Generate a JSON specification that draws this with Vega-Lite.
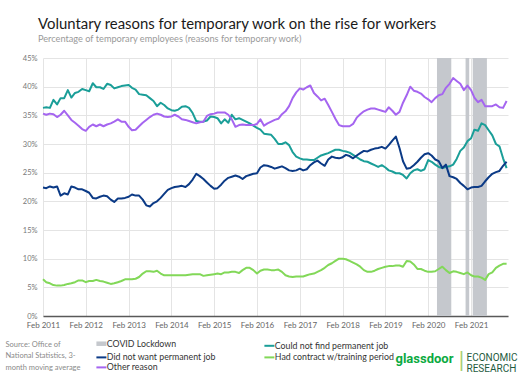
{
  "$schema": "https://vega.github.io/schema/vega-lite/v6.json",
  "width": 465,
  "height": 258,
  "autosize": {"type": "none"},
  "padding": {"left": 43, "top": 58, "right": 17, "bottom": 67},
  "background": "white",
  "title": {
    "text": "Voluntary reasons for temporary work on the rise for workers",
    "subtitle": "Percentage of temporary employees (reasons for temporary work)",
    "anchor": "start",
    "frame": "group",
    "dx": -5,
    "offset": 10,
    "font": "Lato",
    "fontSize": 14.9,
    "fontWeight": "normal",
    "color": "#1a1a1a",
    "subtitleFont": "Lato",
    "subtitleFontSize": 9.2,
    "subtitleColor": "#9a9a9a",
    "subtitlePadding": 3
  },
  "layer": [
    {
      "data": {"values": [
        {"series": "COVID Lockdown", "start": "2020-04-16", "end": "2020-08-16"},
        {"series": "COVID Lockdown", "start": "2020-12-16", "end": "2021-01-16"},
        {"series": "COVID Lockdown", "start": "2021-02-15", "end": "2021-06-16"}
      ]},
      "mark": {"type": "rect"},
      "encoding": {
        "x": {
          "field": "start", "type": "temporal",
          "scale": {"type": "utc", "domain": [{"year": 2011, "month": 2, "date": 1, "utc": true}, {"year": 2021, "month": 12, "date": 13, "utc": true}]},
          "axis": {"orient": "top", "labels": false, "ticks": false, "domain": false, "grid": false,
            "title": ["ECONOMIC", "RESEARCH"], "titleX": 423, "titleY": 294, "titleAlign": "left", "titleAnchor": null,
            "titleBaseline": "top", "titleFont": "Roboto",
            "titleFontSize": 10, "titleFontWeight": "normal", "titleColor": "#1e5b40", "titleLineHeight": 11.5}
        },
        "x2": {"field": "end"},
        "y": {
          "datum": 45, "type": "quantitative",
          "scale": {"domain": [0, 45], "nice": false},
          "axis": {"orient": "right", "labels": false, "ticks": false, "domain": false, "grid": false,
            "title": "|", "titleX": -47, "titleY": 291, "titleAngle": 0, "titleAlign": "center", "titleAnchor": null,
            "titleBaseline": "top", "titleFont": "Lato", "titleFontSize": 22, "titleFontWeight": "normal", "titleColor": "#a9cf6e"}
        },
        "y2": {"datum": 0},
        "color": {
          "field": "series", "type": "nominal",
          "scale": {
            "domain": ["COVID Lockdown", "Could not find permanent job", "Did not want permanent job", "Had contract w/training period", "Other reason"],
            "range": ["#c5c8cd", "#1a9e98", "#0b3a86", "#82d858", "#a565f0"]
          },
          "legend": {
            "title": null,
            "orient": "none",
            "legendX": 54,
            "legendY": 281,
            "direction": "horizontal",
            "columns": 2,
            "columnPadding": 44,
            "rowPadding": -0.6,
            "padding": 0,
            "labelFont": "Lato",
            "labelFontSize": 8.8,
            "labelColor": "#333333",
            "labelOffset": 1,
            "labelLimit": 400,
            "symbolSize": 100,
            "symbolStrokeWidth": 2,
            "symbolType": "stroke",
            "symbolOpacity": 1,
            "encode": {
              "symbols": {
                "update": {
                  "shape": {"value": "stroke"},
                  "fill": {"value": "transparent"},
                  "stroke": {"scale": "color", "field": "value"},
                  "strokeWidth": {"signal": "datum.value === 'COVID Lockdown' ? 4.5 : 2"}
                }
              }
            }
          }
        }
      }
    },
    {
      "data": {"values": [
        {"date": "2011-02-01", "Could not find permanent job": 36.3, "Did not want permanent job": 22.4, "Had contract w/training period": 6.4, "Other reason": 35.3},
        {"date": "2011-03-01", "Could not find permanent job": 36.4, "Did not want permanent job": 22.3, "Had contract w/training period": 5.9, "Other reason": 35.1},
        {"date": "2011-04-01", "Could not find permanent job": 36.3, "Did not want permanent job": 22.6, "Had contract w/training period": 5.7, "Other reason": 35.3},
        {"date": "2011-05-01", "Could not find permanent job": 37.7, "Did not want permanent job": 22.4, "Had contract w/training period": 5.4, "Other reason": 35.2},
        {"date": "2011-06-01", "Could not find permanent job": 36.9, "Did not want permanent job": 22.6, "Had contract w/training period": 5.3, "Other reason": 34.7},
        {"date": "2011-07-01", "Could not find permanent job": 38.0, "Did not want permanent job": 21.0, "Had contract w/training period": 5.3, "Other reason": 35.1},
        {"date": "2011-08-01", "Could not find permanent job": 38.0, "Did not want permanent job": 21.4, "Had contract w/training period": 5.4, "Other reason": 35.8},
        {"date": "2011-09-01", "Could not find permanent job": 39.4, "Did not want permanent job": 21.2, "Had contract w/training period": 5.6, "Other reason": 35.0},
        {"date": "2011-10-01", "Could not find permanent job": 38.1, "Did not want permanent job": 22.6, "Had contract w/training period": 5.7, "Other reason": 34.2},
        {"date": "2011-11-01", "Could not find permanent job": 38.9, "Did not want permanent job": 22.4, "Had contract w/training period": 5.9, "Other reason": 33.7},
        {"date": "2011-12-01", "Could not find permanent job": 39.1, "Did not want permanent job": 22.1, "Had contract w/training period": 6.2, "Other reason": 33.2},
        {"date": "2012-01-01", "Could not find permanent job": 39.6, "Did not want permanent job": 22.1, "Had contract w/training period": 6.2, "Other reason": 32.6},
        {"date": "2012-02-01", "Could not find permanent job": 39.4, "Did not want permanent job": 21.8, "Had contract w/training period": 5.9, "Other reason": 32.3},
        {"date": "2012-03-01", "Could not find permanent job": 39.2, "Did not want permanent job": 21.5, "Had contract w/training period": 6.1, "Other reason": 33.0},
        {"date": "2012-04-01", "Could not find permanent job": 40.6, "Did not want permanent job": 20.6, "Had contract w/training period": 6.1, "Other reason": 33.4},
        {"date": "2012-05-01", "Could not find permanent job": 39.9, "Did not want permanent job": 20.5, "Had contract w/training period": 6.3, "Other reason": 33.1},
        {"date": "2012-06-01", "Could not find permanent job": 39.9, "Did not want permanent job": 20.8, "Had contract w/training period": 6.1, "Other reason": 33.4},
        {"date": "2012-07-01", "Could not find permanent job": 39.6, "Did not want permanent job": 21.0, "Had contract w/training period": 6.0, "Other reason": 33.1},
        {"date": "2012-08-01", "Could not find permanent job": 40.5, "Did not want permanent job": 20.9, "Had contract w/training period": 5.8, "Other reason": 33.4},
        {"date": "2012-09-01", "Could not find permanent job": 40.3, "Did not want permanent job": 20.3, "Had contract w/training period": 5.6, "Other reason": 33.6},
        {"date": "2012-10-01", "Could not find permanent job": 39.7, "Did not want permanent job": 19.9, "Had contract w/training period": 5.7, "Other reason": 33.9},
        {"date": "2012-11-01", "Could not find permanent job": 39.9, "Did not want permanent job": 20.5, "Had contract w/training period": 5.9, "Other reason": 34.3},
        {"date": "2012-12-01", "Could not find permanent job": 40.1, "Did not want permanent job": 20.5, "Had contract w/training period": 6.1, "Other reason": 33.9},
        {"date": "2013-01-01", "Could not find permanent job": 40.2, "Did not want permanent job": 20.6, "Had contract w/training period": 6.4, "Other reason": 33.9},
        {"date": "2013-02-01", "Could not find permanent job": 40.3, "Did not want permanent job": 20.8, "Had contract w/training period": 6.4, "Other reason": 33.0},
        {"date": "2013-03-01", "Could not find permanent job": 39.8, "Did not want permanent job": 21.2, "Had contract w/training period": 6.4, "Other reason": 32.4},
        {"date": "2013-04-01", "Could not find permanent job": 39.5, "Did not want permanent job": 21.0, "Had contract w/training period": 6.5, "Other reason": 32.5},
        {"date": "2013-05-01", "Could not find permanent job": 38.7, "Did not want permanent job": 21.0, "Had contract w/training period": 6.8, "Other reason": 33.1},
        {"date": "2013-06-01", "Could not find permanent job": 38.6, "Did not want permanent job": 20.3, "Had contract w/training period": 7.4, "Other reason": 33.7},
        {"date": "2013-07-01", "Could not find permanent job": 38.5, "Did not want permanent job": 19.3, "Had contract w/training period": 7.8, "Other reason": 34.2},
        {"date": "2013-08-01", "Could not find permanent job": 38.0, "Did not want permanent job": 19.1, "Had contract w/training period": 7.8, "Other reason": 34.7},
        {"date": "2013-09-01", "Could not find permanent job": 37.5, "Did not want permanent job": 19.7, "Had contract w/training period": 7.7, "Other reason": 35.1},
        {"date": "2013-10-01", "Could not find permanent job": 36.6, "Did not want permanent job": 20.0, "Had contract w/training period": 7.9, "Other reason": 35.3},
        {"date": "2013-11-01", "Could not find permanent job": 37.2, "Did not want permanent job": 20.6, "Had contract w/training period": 7.4, "Other reason": 35.1},
        {"date": "2013-12-01", "Could not find permanent job": 36.8, "Did not want permanent job": 21.3, "Had contract w/training period": 7.1, "Other reason": 34.8},
        {"date": "2014-01-01", "Could not find permanent job": 36.2, "Did not want permanent job": 22.0, "Had contract w/training period": 7.1, "Other reason": 34.7},
        {"date": "2014-02-01", "Could not find permanent job": 35.9, "Did not want permanent job": 22.3, "Had contract w/training period": 7.1, "Other reason": 34.8},
        {"date": "2014-03-01", "Could not find permanent job": 35.8, "Did not want permanent job": 22.5, "Had contract w/training period": 7.1, "Other reason": 35.1},
        {"date": "2014-04-01", "Could not find permanent job": 36.0, "Did not want permanent job": 22.6, "Had contract w/training period": 7.1, "Other reason": 34.8},
        {"date": "2014-05-01", "Could not find permanent job": 36.5, "Did not want permanent job": 22.7, "Had contract w/training period": 7.1, "Other reason": 34.3},
        {"date": "2014-06-01", "Could not find permanent job": 36.6, "Did not want permanent job": 22.5, "Had contract w/training period": 7.1, "Other reason": 34.2},
        {"date": "2014-07-01", "Could not find permanent job": 36.3, "Did not want permanent job": 23.0, "Had contract w/training period": 7.2, "Other reason": 34.0},
        {"date": "2014-08-01", "Could not find permanent job": 35.4, "Did not want permanent job": 23.8, "Had contract w/training period": 7.3, "Other reason": 33.8},
        {"date": "2014-09-01", "Could not find permanent job": 34.0, "Did not want permanent job": 24.8, "Had contract w/training period": 7.3, "Other reason": 33.6},
        {"date": "2014-10-01", "Could not find permanent job": 33.9, "Did not want permanent job": 24.4, "Had contract w/training period": 7.3, "Other reason": 33.8},
        {"date": "2014-11-01", "Could not find permanent job": 33.9, "Did not want permanent job": 23.9, "Had contract w/training period": 7.0, "Other reason": 33.9},
        {"date": "2014-12-01", "Could not find permanent job": 34.1, "Did not want permanent job": 23.3, "Had contract w/training period": 7.1, "Other reason": 34.9},
        {"date": "2015-01-01", "Could not find permanent job": 34.8, "Did not want permanent job": 22.7, "Had contract w/training period": 7.2, "Other reason": 35.2},
        {"date": "2015-02-01", "Could not find permanent job": 34.7, "Did not want permanent job": 22.2, "Had contract w/training period": 7.3, "Other reason": 35.3},
        {"date": "2015-03-01", "Could not find permanent job": 34.5, "Did not want permanent job": 22.3, "Had contract w/training period": 7.4, "Other reason": 35.5},
        {"date": "2015-04-01", "Could not find permanent job": 33.6, "Did not want permanent job": 22.9, "Had contract w/training period": 7.3, "Other reason": 35.5},
        {"date": "2015-05-01", "Could not find permanent job": 34.3, "Did not want permanent job": 23.6, "Had contract w/training period": 7.6, "Other reason": 35.5},
        {"date": "2015-06-01", "Could not find permanent job": 33.7, "Did not want permanent job": 24.1, "Had contract w/training period": 7.6, "Other reason": 35.1},
        {"date": "2015-07-01", "Could not find permanent job": 35.1, "Did not want permanent job": 24.3, "Had contract w/training period": 7.7, "Other reason": 34.3},
        {"date": "2015-08-01", "Could not find permanent job": 34.3, "Did not want permanent job": 24.5, "Had contract w/training period": 7.7, "Other reason": 33.0},
        {"date": "2015-09-01", "Could not find permanent job": 34.5, "Did not want permanent job": 24.3, "Had contract w/training period": 7.5, "Other reason": 33.3},
        {"date": "2015-10-01", "Could not find permanent job": 34.2, "Did not want permanent job": 23.9, "Had contract w/training period": 8.0, "Other reason": 33.4},
        {"date": "2015-11-01", "Could not find permanent job": 33.9, "Did not want permanent job": 24.4, "Had contract w/training period": 8.4, "Other reason": 33.3},
        {"date": "2015-12-01", "Could not find permanent job": 33.6, "Did not want permanent job": 24.6, "Had contract w/training period": 8.4, "Other reason": 33.3},
        {"date": "2016-01-01", "Could not find permanent job": 33.2, "Did not want permanent job": 24.8, "Had contract w/training period": 8.0, "Other reason": 33.3},
        {"date": "2016-02-01", "Could not find permanent job": 32.8, "Did not want permanent job": 24.9, "Had contract w/training period": 7.4, "Other reason": 33.5},
        {"date": "2016-03-01", "Could not find permanent job": 32.5, "Did not want permanent job": 25.9, "Had contract w/training period": 7.9, "Other reason": 34.3},
        {"date": "2016-04-01", "Could not find permanent job": 31.8, "Did not want permanent job": 26.3, "Had contract w/training period": 8.1, "Other reason": 33.2},
        {"date": "2016-05-01", "Could not find permanent job": 31.7, "Did not want permanent job": 26.2, "Had contract w/training period": 8.1, "Other reason": 33.6},
        {"date": "2016-06-01", "Could not find permanent job": 31.6, "Did not want permanent job": 26.0, "Had contract w/training period": 8.0, "Other reason": 33.9},
        {"date": "2016-07-01", "Could not find permanent job": 30.9, "Did not want permanent job": 25.7, "Had contract w/training period": 8.0, "Other reason": 34.2},
        {"date": "2016-08-01", "Could not find permanent job": 30.0, "Did not want permanent job": 25.9, "Had contract w/training period": 8.1, "Other reason": 34.4},
        {"date": "2016-09-01", "Could not find permanent job": 30.0, "Did not want permanent job": 26.1, "Had contract w/training period": 7.7, "Other reason": 35.2},
        {"date": "2016-10-01", "Could not find permanent job": 30.3, "Did not want permanent job": 25.8, "Had contract w/training period": 7.1, "Other reason": 35.7},
        {"date": "2016-11-01", "Could not find permanent job": 29.8, "Did not want permanent job": 25.4, "Had contract w/training period": 6.9, "Other reason": 36.6},
        {"date": "2016-12-01", "Could not find permanent job": 28.6, "Did not want permanent job": 25.3, "Had contract w/training period": 6.8, "Other reason": 38.0},
        {"date": "2017-01-01", "Could not find permanent job": 27.8, "Did not want permanent job": 25.4, "Had contract w/training period": 6.9, "Other reason": 39.0},
        {"date": "2017-02-01", "Could not find permanent job": 27.5, "Did not want permanent job": 25.7, "Had contract w/training period": 6.9, "Other reason": 39.7},
        {"date": "2017-03-01", "Could not find permanent job": 27.3, "Did not want permanent job": 25.4, "Had contract w/training period": 6.9, "Other reason": 39.5},
        {"date": "2017-04-01", "Could not find permanent job": 27.3, "Did not want permanent job": 25.6, "Had contract w/training period": 7.1, "Other reason": 39.9},
        {"date": "2017-05-01", "Could not find permanent job": 27.2, "Did not want permanent job": 26.3, "Had contract w/training period": 7.3, "Other reason": 40.2},
        {"date": "2017-06-01", "Could not find permanent job": 27.2, "Did not want permanent job": 26.8, "Had contract w/training period": 7.4, "Other reason": 38.9},
        {"date": "2017-07-01", "Could not find permanent job": 27.6, "Did not want permanent job": 27.1, "Had contract w/training period": 7.7, "Other reason": 38.3},
        {"date": "2017-08-01", "Could not find permanent job": 28.0, "Did not want permanent job": 26.6, "Had contract w/training period": 8.0, "Other reason": 37.6},
        {"date": "2017-09-01", "Could not find permanent job": 28.2, "Did not want permanent job": 26.2, "Had contract w/training period": 8.4, "Other reason": 37.9},
        {"date": "2017-10-01", "Could not find permanent job": 28.4, "Did not want permanent job": 27.3, "Had contract w/training period": 8.9, "Other reason": 36.8},
        {"date": "2017-11-01", "Could not find permanent job": 28.7, "Did not want permanent job": 27.8, "Had contract w/training period": 9.2, "Other reason": 35.6},
        {"date": "2017-12-01", "Could not find permanent job": 29.0, "Did not want permanent job": 27.6, "Had contract w/training period": 9.6, "Other reason": 34.4},
        {"date": "2018-01-01", "Could not find permanent job": 29.0, "Did not want permanent job": 27.5, "Had contract w/training period": 10.0, "Other reason": 33.3},
        {"date": "2018-02-01", "Could not find permanent job": 28.8, "Did not want permanent job": 27.7, "Had contract w/training period": 10.0, "Other reason": 33.1},
        {"date": "2018-03-01", "Could not find permanent job": 28.7, "Did not want permanent job": 28.1, "Had contract w/training period": 9.9, "Other reason": 33.1},
        {"date": "2018-04-01", "Could not find permanent job": 28.5, "Did not want permanent job": 27.9, "Had contract w/training period": 9.6, "Other reason": 33.1},
        {"date": "2018-05-01", "Could not find permanent job": 28.1, "Did not want permanent job": 27.5, "Had contract w/training period": 9.3, "Other reason": 33.5},
        {"date": "2018-06-01", "Could not find permanent job": 27.7, "Did not want permanent job": 28.0, "Had contract w/training period": 9.0, "Other reason": 34.6},
        {"date": "2018-07-01", "Could not find permanent job": 27.3, "Did not want permanent job": 28.4, "Had contract w/training period": 8.6, "Other reason": 35.2},
        {"date": "2018-08-01", "Could not find permanent job": 27.0, "Did not want permanent job": 28.8, "Had contract w/training period": 8.0, "Other reason": 35.7},
        {"date": "2018-09-01", "Could not find permanent job": 26.9, "Did not want permanent job": 28.7, "Had contract w/training period": 7.7, "Other reason": 36.0},
        {"date": "2018-10-01", "Could not find permanent job": 26.6, "Did not want permanent job": 29.0, "Had contract w/training period": 7.7, "Other reason": 36.2},
        {"date": "2018-11-01", "Could not find permanent job": 26.3, "Did not want permanent job": 29.2, "Had contract w/training period": 7.9, "Other reason": 36.2},
        {"date": "2018-12-01", "Could not find permanent job": 26.0, "Did not want permanent job": 29.3, "Had contract w/training period": 8.2, "Other reason": 36.0},
        {"date": "2019-01-01", "Could not find permanent job": 26.3, "Did not want permanent job": 29.5, "Had contract w/training period": 8.4, "Other reason": 35.8},
        {"date": "2019-02-01", "Could not find permanent job": 25.9, "Did not want permanent job": 29.2, "Had contract w/training period": 8.6, "Other reason": 35.6},
        {"date": "2019-03-01", "Could not find permanent job": 25.4, "Did not want permanent job": 29.8, "Had contract w/training period": 8.7, "Other reason": 36.4},
        {"date": "2019-04-01", "Could not find permanent job": 25.2, "Did not want permanent job": 30.6, "Had contract w/training period": 8.7, "Other reason": 35.8},
        {"date": "2019-05-01", "Could not find permanent job": 24.9, "Did not want permanent job": 31.3, "Had contract w/training period": 8.8, "Other reason": 35.1},
        {"date": "2019-06-01", "Could not find permanent job": 24.9, "Did not want permanent job": 29.3, "Had contract w/training period": 8.8, "Other reason": 35.6},
        {"date": "2019-07-01", "Could not find permanent job": 24.6, "Did not want permanent job": 27.0, "Had contract w/training period": 8.6, "Other reason": 37.2},
        {"date": "2019-08-01", "Could not find permanent job": 24.0, "Did not want permanent job": 25.7, "Had contract w/training period": 9.6, "Other reason": 38.5},
        {"date": "2019-09-01", "Could not find permanent job": 24.9, "Did not want permanent job": 25.8, "Had contract w/training period": 9.5, "Other reason": 40.0},
        {"date": "2019-10-01", "Could not find permanent job": 25.4, "Did not want permanent job": 26.3, "Had contract w/training period": 9.0, "Other reason": 39.3},
        {"date": "2019-11-01", "Could not find permanent job": 25.6, "Did not want permanent job": 26.9, "Had contract w/training period": 8.2, "Other reason": 39.1},
        {"date": "2019-12-01", "Could not find permanent job": 25.3, "Did not want permanent job": 27.6, "Had contract w/training period": 8.2, "Other reason": 38.8},
        {"date": "2020-01-01", "Could not find permanent job": 25.6, "Did not want permanent job": 28.2, "Had contract w/training period": 7.9, "Other reason": 38.2},
        {"date": "2020-02-01", "Could not find permanent job": 27.2, "Did not want permanent job": 28.4, "Had contract w/training period": 7.7, "Other reason": 37.8},
        {"date": "2020-03-01", "Could not find permanent job": 26.9, "Did not want permanent job": 28.0, "Had contract w/training period": 7.7, "Other reason": 37.3},
        {"date": "2020-04-01", "Could not find permanent job": 26.4, "Did not want permanent job": 27.3, "Had contract w/training period": 7.8, "Other reason": 38.0},
        {"date": "2020-05-01", "Could not find permanent job": 26.0, "Did not want permanent job": 27.0, "Had contract w/training period": 8.2, "Other reason": 38.5},
        {"date": "2020-06-01", "Could not find permanent job": 25.8, "Did not want permanent job": 25.8, "Had contract w/training period": 8.6, "Other reason": 38.7},
        {"date": "2020-07-01", "Could not find permanent job": 26.0, "Did not want permanent job": 26.4, "Had contract w/training period": 8.0, "Other reason": 39.8},
        {"date": "2020-08-01", "Could not find permanent job": 26.1, "Did not want permanent job": 24.4, "Had contract w/training period": 7.5, "Other reason": 40.5},
        {"date": "2020-09-01", "Could not find permanent job": 26.4, "Did not want permanent job": 24.2, "Had contract w/training period": 7.8, "Other reason": 41.5},
        {"date": "2020-10-01", "Could not find permanent job": 27.4, "Did not want permanent job": 23.9, "Had contract w/training period": 7.7, "Other reason": 41.0},
        {"date": "2020-11-01", "Could not find permanent job": 28.8, "Did not want permanent job": 23.2, "Had contract w/training period": 7.5, "Other reason": 40.5},
        {"date": "2020-12-01", "Could not find permanent job": 29.4, "Did not want permanent job": 22.7, "Had contract w/training period": 7.3, "Other reason": 39.4},
        {"date": "2021-01-01", "Could not find permanent job": 30.5, "Did not want permanent job": 22.1, "Had contract w/training period": 7.6, "Other reason": 40.2},
        {"date": "2021-02-01", "Could not find permanent job": 31.0, "Did not want permanent job": 22.4, "Had contract w/training period": 7.1, "Other reason": 39.4},
        {"date": "2021-03-01", "Could not find permanent job": 32.5, "Did not want permanent job": 22.5, "Had contract w/training period": 6.9, "Other reason": 38.1},
        {"date": "2021-04-01", "Could not find permanent job": 32.3, "Did not want permanent job": 22.5, "Had contract w/training period": 6.9, "Other reason": 37.3},
        {"date": "2021-05-01", "Could not find permanent job": 33.6, "Did not want permanent job": 22.7, "Had contract w/training period": 6.7, "Other reason": 37.7},
        {"date": "2021-06-01", "Could not find permanent job": 33.3, "Did not want permanent job": 23.5, "Had contract w/training period": 6.3, "Other reason": 36.6},
        {"date": "2021-07-01", "Could not find permanent job": 32.4, "Did not want permanent job": 24.2, "Had contract w/training period": 7.3, "Other reason": 36.6},
        {"date": "2021-08-01", "Could not find permanent job": 31.5, "Did not want permanent job": 24.8, "Had contract w/training period": 7.6, "Other reason": 36.6},
        {"date": "2021-09-01", "Could not find permanent job": 30.0, "Did not want permanent job": 25.1, "Had contract w/training period": 8.4, "Other reason": 36.9},
        {"date": "2021-10-01", "Could not find permanent job": 29.6, "Did not want permanent job": 25.3, "Had contract w/training period": 8.8, "Other reason": 36.4},
        {"date": "2021-11-01", "Could not find permanent job": 27.5, "Did not want permanent job": 26.2, "Had contract w/training period": 9.1, "Other reason": 36.3},
        {"date": "2021-12-01", "Could not find permanent job": 25.8, "Did not want permanent job": 26.9, "Had contract w/training period": 9.1, "Other reason": 37.5}
      ]},
      "transform": [
        {"fold": ["Could not find permanent job", "Did not want permanent job", "Had contract w/training period", "Other reason"], "as": ["series", "value"]}
      ],
      "mark": {"type": "line", "strokeWidth": 2, "strokeJoin": "round"},
      "encoding": {
        "x": {
          "field": "date", "type": "temporal",
          "axis": {
            "orient": "bottom",
            "values": [
              {"year": 2011, "month": 2, "date": 1, "utc": true},
              {"year": 2012, "month": 2, "date": 1, "utc": true},
              {"year": 2013, "month": 2, "date": 1, "utc": true},
              {"year": 2014, "month": 2, "date": 1, "utc": true},
              {"year": 2015, "month": 2, "date": 1, "utc": true},
              {"year": 2016, "month": 2, "date": 1, "utc": true},
              {"year": 2017, "month": 2, "date": 1, "utc": true},
              {"year": 2018, "month": 2, "date": 1, "utc": true},
              {"year": 2019, "month": 2, "date": 1, "utc": true},
              {"year": 2020, "month": 2, "date": 1, "utc": true},
              {"year": 2021, "month": 2, "date": 1, "utc": true}
            ],
            "format": "%b %Y",
            "labelFlush": false,
            "labelOverlap": false,
            "labelFont": "Lato", "labelFontSize": 8, "labelColor": "#666666", "labelPadding": 5,
            "grid": true, "gridColor": "#e4e4e4", "gridWidth": 1,
            "ticks": false,
            "domain": true, "domainColor": "#595959", "domainWidth": 1.5,
            "title": ["Source: Office of", "National Statistics, 3-", "month moving average"],
            "titleX": -38, "titleY": 24, "titleAlign": "left", "titleAnchor": null, "titleBaseline": "top",
            "titleFont": "Lato", "titleFontSize": 7.5, "titleFontWeight": "normal", "titleColor": "#8a8a8a", "titleLineHeight": 11.5
          }
        },
        "y": {
          "field": "value", "type": "quantitative",
          "axis": {
            "orient": "left",
            "values": [0, 5, 10, 15, 20, 25, 30, 35, 40, 45],
            "labelExpr": "datum.value + '%'",
            "labelFont": "Lato", "labelFontSize": 7.5, "labelColor": "#777777", "labelPadding": 6,
            "grid": true, "gridColor": "#e4e4e4", "gridWidth": 1,
            "ticks": false, "domain": false,
            "title": "glassdoor", "titleX": 352, "titleY": 300, "titleAngle": 0, "titleAlign": "left", "titleAnchor": null,
            "titleBaseline": "middle", "titleFont": "Roboto", "titleFontSize": 13, "titleFontWeight": "bold", "titleColor": "#0caa41"
          }
        },
        "color": {
          "field": "series", "type": "nominal",
          "scale": {
            "domain": ["COVID Lockdown", "Could not find permanent job", "Did not want permanent job", "Had contract w/training period", "Other reason"],
            "range": ["#c5c8cd", "#1a9e98", "#0b3a86", "#82d858", "#a565f0"]
          },
          "legend": {
            "title": null,
            "orient": "none",
            "legendX": 54,
            "legendY": 281,
            "direction": "horizontal",
            "columns": 2,
            "columnPadding": 44,
            "rowPadding": -0.6,
            "padding": 0,
            "labelFont": "Lato",
            "labelFontSize": 8.8,
            "labelColor": "#333333",
            "labelOffset": 1,
            "labelLimit": 400,
            "symbolSize": 100,
            "symbolStrokeWidth": 2,
            "symbolType": "stroke",
            "symbolOpacity": 1,
            "encode": {
              "symbols": {
                "update": {
                  "shape": {"value": "stroke"},
                  "fill": {"value": "transparent"},
                  "stroke": {"scale": "color", "field": "value"},
                  "strokeWidth": {"signal": "datum.value === 'COVID Lockdown' ? 4.5 : 2"}
                }
              }
            }
          }
        }
      }
    }
  ],
  "resolve": {"axis": {"x": "independent", "y": "independent"}},
  "config": {
    "font": "Lato",
    "view": {"stroke": null}
  }
}
